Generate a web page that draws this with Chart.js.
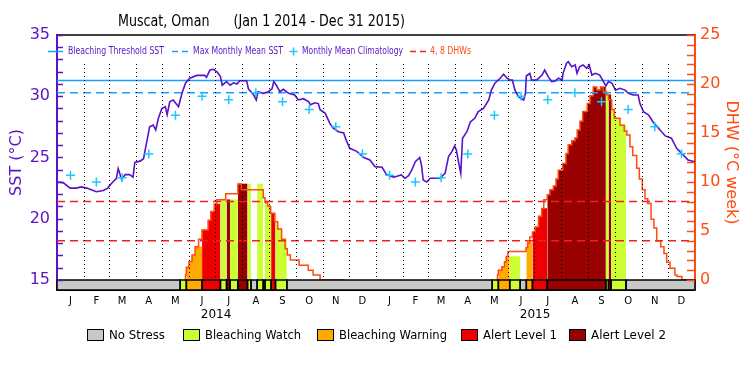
<!DOCTYPE html>
<html>
<head>
<meta charset="utf-8">
<script src="https://cdn.jsdelivr.net/npm/chart.js@4/dist/chart.umd.min.js"></script>
<style>
  html, body { margin: 0; padding: 0; background: #fff; }
</style>
</head>
<body>
<canvas id="myChart" width="750" height="375"></canvas>
<script>
// ---- data ----
const monthLetters = ['J', 'F', 'M', 'A', 'M', 'J', 'J', 'A', 'S', 'O', 'N', 'D']
const yearLabels = ['2014', '2015']
const sstTicks = [15, 20, 25, 30, 35]
const dhwTicks = [0, 5, 10, 15, 20, 25]

// daily SST (days since Jan 1 2014)
const sstDays = [0, 7, 15, 22, 28, 34, 45, 53, 58, 62,
    68, 70, 74, 78, 83, 87, 89, 95, 99, 103,
    106, 110, 113, 116, 120, 124, 126, 129, 133, 139,
    143, 147, 152, 160, 169, 171, 175, 179, 183, 187,
    189, 194, 198, 202, 206, 209, 217, 219, 225, 228,
    230, 236, 242, 246, 248, 251, 255, 259, 265, 272,
    276, 282, 288, 290, 295, 299, 301, 307, 312, 316,
    322, 328, 331, 335, 343, 351, 358, 364, 372, 377,
    385, 389, 394, 398, 402, 406, 410, 415, 417, 419,
    423, 427, 438, 444, 448, 452, 455, 457, 459, 462,
    464, 469, 473, 478, 482, 488, 494, 497, 501, 507,
    511, 515, 518, 521, 524, 528, 534, 536, 537, 541,
    543, 549, 555, 558, 562, 566, 570, 574, 578, 579,
    583, 585, 589, 593, 595, 598, 602, 606, 609, 612,
    616, 621, 623, 628, 631, 635, 639, 644, 650, 654,
    659, 665, 667, 671, 677, 682, 690, 696, 703, 709,
    715, 722, 730]
const sstValues = [23.0, 22.95, 22.5, 22.5, 22.6, 22.5, 22.2, 22.3, 22.5, 22.85,
    23.3, 24.1, 23.2, 23.6, 23.6, 23.4, 24.6, 24.7, 24.9, 26.4,
    27.5, 27.65, 27.25, 28.2, 29.0, 29.15, 28.5, 29.55, 29.7, 29.15,
    30.24, 31.06, 31.47, 31.7, 31.7, 31.55, 32.14, 32.2, 32.0, 31.6,
    30.9, 31.2, 30.9, 31.1, 31.0, 31.27, 31.27, 30.6, 30.1, 29.7,
    30.37, 30.24, 30.37, 30.6, 31.2, 30.9, 30.37, 30.57, 30.24, 30.1,
    29.7, 29.8, 29.55, 29.3, 29.47, 29.4, 28.9, 28.6, 27.8, 27.4,
    27.1, 27.0, 26.4, 25.75, 25.5, 25.0, 24.8, 24.25, 24.2, 23.6,
    23.4, 23.47, 23.57, 23.3, 23.5, 23.98, 24.66, 25.0, 24.4, 23.16,
    23.0, 23.3, 23.3, 23.7, 25.07, 25.5, 25.94, 25.6, 24.8, 23.7,
    26.57, 27.1, 27.9, 28.2, 28.74, 29.0, 29.7, 30.5, 31.06, 31.47,
    31.8, 31.47, 31.33, 31.33, 30.5, 29.96, 29.7, 30.24, 31.65, 31.87,
    31.33, 31.33, 31.73, 32.14, 31.6, 31.2, 31.25, 31.47, 31.33, 31.87,
    32.7, 32.82, 32.41, 32.55, 31.87, 32.41, 32.55, 32.28, 32.55, 31.73,
    31.87, 31.73, 31.47, 30.84, 31.2, 31.06, 30.5, 30.65, 30.5, 30.24,
    30.1, 30.1, 29.4, 28.74, 28.47, 27.9, 27.24, 26.76, 26.57, 25.75,
    25.3, 24.8, 24.65]

// monthly mean climatology, Jan..Dec
const climatology = [23.55, 23.0, 23.35, 25.28, 28.45, 30.0, 29.72, 30.28, 29.56, 28.92, 27.5, 25.3]
const maxMonthlyMean = 30.28
const bleachingThreshold = 31.28
const dhwMarks = [4, 8]

// degree heating weeks, stepped (null = gap)
const dhwDays = [147, 148, 151, 154.5, 158, 162, 166, 173, 176, 180,
    183, 193, 207, 211, 236, 238, 241, 244, 249, 252.5,
    257, 261, 263.5, 267, 277, 287.5, 293, 301, 329, 330,
    504, 505, 509, 512, 514, 516, 536.6, 538.5, 541, 544,
    547, 551, 554.6, 557, 561, 564, 568, 571, 573.6, 578.6,
    582.4, 585, 589, 592.7, 595.3, 598.4, 601.5, 606.8, 610, 613.6,
    617.5, 622, 625, 628.5, 631, 634.7, 637.7, 644.2, 649, 652,
    655.6, 658.7, 663.3, 666.3, 669.7, 672.8, 676, 679.7, 683, 686.2,
    690.8, 694.5, 697.6, 701.4, 707, 709.4, 715, 727.7]
const dhwValues = [0, 0.5, 1.3, 1.9, 2.55, 3.4, 4.15, 5.1, 6.1, 7.0,
    7.75, 8.2, 8.8, 9.8, 9.2, 8.4, 7.9, 7.55, 6.8, 5.95,
    5.2, 4.15, 3.2, 2.55, 2.04, 1.5, 1.0, 0.5, 0, null,
    0, 0.5, 1.0, 1.36, 1.87, 2.4, 2.9, 3.3, 3.8, 4.4,
    4.9, 5.4, 6.5, 7.3, 8.2, 8.7, 9.2, 9.6, 10.3, 11.2,
    11.9, 12.9, 13.8, 14.2, 14.5, 15.3, 16.2, 17.2, 18.0, 18.8,
    19.7, 19.4, 19.7, 19.2, 18.9, 18.4, 17.4, 16.5, 15.8, 15.2,
    14.8, 13.6, 12.7, 11.4, 10.3, 9.2, 8.3, 7.8, 6.2, 5.3,
    4.0, 3.4, 2.7, 1.8, 1.2, 0.5, 0.35, 0]

// stress level runs: start day and level (0 none .. 4 alert 2)
const stressStart = [0, 141, 148, 166, 187, 194, 198, 207, 218, 222, 229, 236, 238, 245, 250, 263,
    498, 505, 518, 530, 537, 544, 561, 628, 631, 634, 651]
const stressLevel = [0, 1, 2, 3, 1, 4, 1, 4, 1, 0, 1, 0, 1, 3, 1, 0,
    1, 2, 1, 0, 2, 3, 4, 1, 4, 1, 0]
const stressNames = ['No Stress', 'Bleaching Watch', 'Bleaching Warning', 'Alert Level 1', 'Alert Level 2']
const stressColors = ['#c8c8c8', '#ccff33', '#ffaa00', '#ee0000', '#990000']

// ---- styling ----
const FONT = 'DejaVu Sans'
const PURPLE = '#5a12c8'
const ORANGE = '#ff4a10'
const RED = '#ee2020'
const CYAN = '#1ec8ff'
const BLUE = '#1a9eff'

// calendar helpers
const dayOf = (y, m, d) => (Date.UTC(y, m, d) - Date.UTC(2014, 0, 1)) / 864e5
const TOTAL = dayOf(2016, 0, 1)
const monthStarts = []
const monthMids = []
for (const y of [2014, 2015]) {
    for (let m = 0; m < 12; m++) {
        const s = dayOf(y, m, 1), e = dayOf(y, m + 1, 1)
        monthStarts.push(s)
        monthMids.push((s + e) / 2)
    }
}

function dhwAt(d) {
    let v = 0
    for (let i = 0; i < dhwDays.length; i++) {
        if (dhwDays[i] > d) break
        v = dhwValues[i] === null ? 0 : dhwValues[i]
    }
    return v
}

const hline = (v) => [{x: 0, y: v}, {x: TOTAL, y: v}]

// coloured fill under the DHW curve, one piece per stress run
const fillSets = []
stressStart.forEach((s, i) => {
    const lvl = stressLevel[i]
    if (!lvl) return
    const e = i + 1 < stressStart.length ? stressStart[i + 1] : TOTAL
    const pts = [{x: s, y: dhwAt(s)}]
    dhwDays.forEach((d, j) => {
        if (d > s && d < e) pts.push({x: d, y: dhwValues[j] === null ? 0 : dhwValues[j]})
    })
    pts.push({x: e, y: dhwAt(e - 0.01)})
    fillSets.push({
        data: pts, yAxisID: 'yDHW', stepped: 'after', fill: 'origin',
        backgroundColor: stressColors[lvl], borderColor: stressColors[lvl],
        borderWidth: 0.5, pointRadius: 0, order: 10
    })
})

const climPoints = monthMids.map((d, i) => ({x: d, y: climatology[i % 12]}))

const data = {
    datasets: [
        {data: climPoints, yAxisID: 'ySST', showLine: false, pointStyle: 'cross',
            pointRadius: 4.5, borderColor: CYAN, pointBorderWidth: 1.5, order: 0},
        {data: sstDays.map((d, i) => ({x: d, y: sstValues[i]})), yAxisID: 'ySST',
            borderColor: PURPLE, borderWidth: 1.6, pointRadius: 0, order: 1},
        {data: hline(bleachingThreshold), yAxisID: 'ySST', borderColor: BLUE,
            borderWidth: 1.5, pointRadius: 0, order: 2},
        {data: hline(maxMonthlyMean), yAxisID: 'ySST', borderColor: BLUE, borderDash: [8, 5],
            borderWidth: 1.5, pointRadius: 0, order: 2},
        ...dhwMarks.map(v => ({data: hline(v), yAxisID: 'yDHW', borderColor: RED,
            borderDash: [8, 5], borderWidth: 1.5, pointRadius: 0, order: 3})),
        {data: dhwDays.map((d, i) => ({x: d, y: dhwValues[i]})), yAxisID: 'yDHW',
            stepped: 'after', borderColor: ORANGE, borderWidth: 1.5, pointRadius: 0, order: 4},
        ...fillSets
    ]
}

// strip, dotted month lines, inner ticks, legends, titles
const decor = {
    id: 'decor',
    afterDatasetsDraw(chart) {
        const {ctx, chartArea: a, scales: {x, ySST, yDHW}} = chart
        const y0 = yDHW.getPixelForValue(0)
        ctx.save()

        ctx.strokeStyle = '#000'
        ctx.lineWidth = 1
        ctx.setLineDash([1, 3])
        monthStarts.forEach(d => {
            if (d <= 0) return
            const px = Math.round(x.getPixelForValue(d)) + 0.5
            ctx.beginPath()
            ctx.moveTo(px, a.top + 29)
            ctx.lineTo(px, y0)
            ctx.stroke()
        })
        ctx.setLineDash([])

        stressStart.forEach((s, i) => {
            const e = i + 1 < stressStart.length ? stressStart[i + 1] : TOTAL
            const x0 = x.getPixelForValue(s), x1 = x.getPixelForValue(e)
            ctx.fillStyle = stressColors[stressLevel[i]]
            ctx.fillRect(x0, y0, x1 - x0, a.bottom - y0)
        })
        ctx.lineWidth = 1.5
        ctx.strokeStyle = '#000'
        stressStart.forEach((s, i) => {
            const e = i + 1 < stressStart.length ? stressStart[i + 1] : TOTAL
            const x0 = x.getPixelForValue(s), x1 = x.getPixelForValue(e)
            ctx.strokeRect(x0, y0, x1 - x0, a.bottom - y0)
        })

        // frame top
        ctx.beginPath()
        ctx.moveTo(a.left, a.top)
        ctx.lineTo(a.right, a.top)
        ctx.stroke()

        // inner ticks
        ctx.lineWidth = 1.5
        ctx.strokeStyle = PURPLE
        for (let v = 15; v <= 35; v++) {
            const py = Math.round(ySST.getPixelForValue(v)) + 0.5
            ctx.beginPath(); ctx.moveTo(a.left, py); ctx.lineTo(a.left + 6, py); ctx.stroke()
        }
        ctx.strokeStyle = ORANGE
        for (let v = 0; v <= 25; v++) {
            const py = Math.round(yDHW.getPixelForValue(v)) + 0.5
            ctx.beginPath(); ctx.moveTo(a.right - 8, py); ctx.lineTo(a.right, py); ctx.stroke()
        }

        // title
        ctx.textBaseline = 'middle'
        ctx.textAlign = 'left'
        ctx.fillStyle = '#000'
        ctx.font = '15px "' + FONT + '"'
        ctx.fillText('Muscat, Oman      (Jan 1 2014 - Dec 31 2015)', 118, 22, 287)

        // top legend
        const ly = 51.5
        ctx.font = '11px "' + FONT + '"'
        ctx.lineWidth = 1.5
        ctx.strokeStyle = BLUE
        ctx.beginPath(); ctx.moveTo(48, ly); ctx.lineTo(63, ly); ctx.stroke()
        ctx.fillStyle = PURPLE
        ctx.fillText('Bleaching Threshold SST', 68, ly, 96)
        ctx.setLineDash([6, 4])
        ctx.beginPath(); ctx.moveTo(172, ly); ctx.lineTo(189, ly); ctx.stroke()
        ctx.setLineDash([])
        ctx.fillText('Max Monthly Mean SST', 193, ly, 90)
        ctx.strokeStyle = CYAN
        ctx.beginPath()
        ctx.moveTo(289.5, ly); ctx.lineTo(297.5, ly)
        ctx.moveTo(293.5, ly - 4); ctx.lineTo(293.5, ly + 4)
        ctx.stroke()
        ctx.fillText('Monthly Mean Climatology', 302, ly, 101)
        ctx.strokeStyle = RED
        ctx.setLineDash([6, 4])
        ctx.beginPath(); ctx.moveTo(410, ly); ctx.lineTo(426, ly); ctx.stroke()
        ctx.setLineDash([])
        ctx.fillStyle = ORANGE
        ctx.fillText('4, 8 DHWs', 430, ly, 41)

        // years under the months
        ctx.textAlign = 'center'
        ctx.fillStyle = '#000'
        ctx.font = '12px "' + FONT + '"'
        yearLabels.forEach((t, i) => {
            ctx.fillText(t, x.getPixelForValue(dayOf(2014 + i, 6, 2)), 315)
        })

        // stress legend
        const boxX = [87, 183, 317, 461, 569]
        const textW = [56, 96, 108, 74, 75]
        ctx.textAlign = 'left'
        ctx.lineWidth = 1
        ctx.strokeStyle = '#000'
        ctx.font = '12px "' + FONT + '"'
        stressNames.forEach((name, i) => {
            ctx.fillStyle = stressColors[i]
            ctx.fillRect(boxX[i], 329.5, 16, 11)
            ctx.strokeRect(boxX[i] + 0.5, 329.5, 16, 11)
            ctx.fillStyle = '#000'
            ctx.fillText(name, boxX[i] + 22, 335.5, textW[i])
        })

        ctx.restore()
    }
}

const ctx = document.getElementById('myChart')

const chart = new Chart(ctx, {
    type: 'line',
    data: data,
    options: {
        responsive: false,
        animation: false,
        devicePixelRatio: 1,
        events: [],
        layout: {padding: {top: 35, left: 0, right: 0, bottom: 0}},
        plugins: {
            legend: {display: false},
            tooltip: {enabled: false}
        },
        scales: {
            x: {
                type: 'linear', min: 0, max: TOTAL, z: 1,
                afterBuildTicks: s => { s.ticks = monthMids.map(v => ({value: v})) },
                afterFit: s => { s.height = 85 },
                grid: {display: false, drawTicks: false},
                border: {color: '#000', width: 2},
                ticks: {
                    autoSkip: false, maxRotation: 0, padding: 5, color: '#000',
                    font: {family: FONT, size: 10},
                    callback: (v, i) => monthLetters[i % 12]
                }
            },
            ySST: {
                position: 'left', min: 14.18, max: 35, z: 1,
                afterBuildTicks: s => { s.ticks = sstTicks.map(v => ({value: v})) },
                afterFit: s => { s.width = 57 },
                grid: {display: false, drawTicks: false},
                border: {color: PURPLE, width: 2},
                ticks: {padding: 7, color: PURPLE, font: {family: FONT, size: 16}},
                title: {display: true, text: 'SST (°C)', color: PURPLE,
                    font: {family: FONT, size: 16}, padding: {top: 7, bottom: 0}}
            },
            yDHW: {
                position: 'right', min: -1.02, max: 25, z: 1,
                afterBuildTicks: s => { s.ticks = dhwTicks.map(v => ({value: v})) },
                afterFit: s => { s.width = 55 },
                grid: {display: false, drawTicks: false},
                border: {color: ORANGE, width: 2},
                ticks: {padding: 5, color: ORANGE, font: {family: FONT, size: 16}},
                title: {display: true, text: 'DHW (°C week)', color: ORANGE,
                    font: {family: FONT, size: 16}, padding: {top: 9, bottom: 0}}
            }
        }
    },
    plugins: [decor]
})
</script>
</body>
</html>
